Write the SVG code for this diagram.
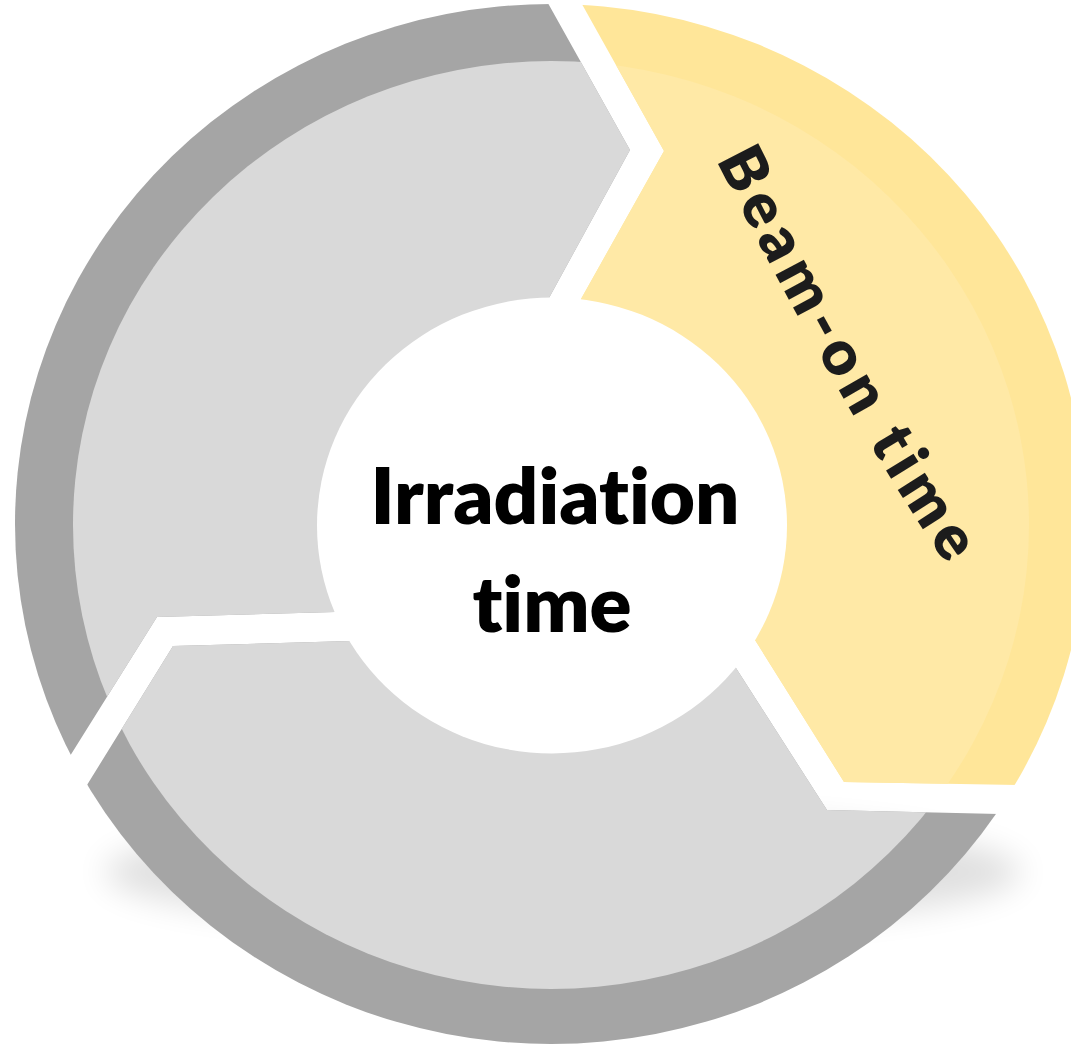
<svg xmlns="http://www.w3.org/2000/svg" width="1071" height="1046" viewBox="0 0 1071 1046">
  <style>
    .outer-gray { fill: #A5A5A5; }
    .inner-gray { fill: #D9D9D9; }
    .outer-yellow { fill: #FFE699; }
    .inner-yellow { fill: #FFE9A6; }
    .center { fill: #FFFFFF; }
    .center-label { font-family: Lato, "Open Sans", sans-serif; font-weight: 800; font-size: 78px; fill: #000000; text-anchor: middle; font-variant-ligatures: none; }
    .arc-label { font-family: Lato, "Open Sans", sans-serif; font-weight: 800; font-size: 62px; fill: #1C1C1C; letter-spacing: 6.5px; font-variant-ligatures: none; }
  </style>
  <defs>
    <clipPath id="clip-yellow">
      <polygon points="557,-40 583,6 664,151 581,299 552,525 755,640 844,782 1018,785 1150,787 1150,-40"/>
    </clipPath>
    <clipPath id="clip-bottom">
      <polygon points="552,525 736,668 827,810 999,814 1150,817 1150,1100 -50,1100 16,900 87,785 173,646 350,641"/>
    </clipPath>
    <clipPath id="clip-left">
      <polygon points="552,525 335,612 157,617 70,756 5,860 -50,860 -50,-40 524,-40 549,5 630,150 549,298"/>
    </clipPath>
    <filter id="soft-shadow" x="-20%" y="-100%" width="140%" height="300%">
      <feGaussianBlur stdDeviation="16"/>
    </filter>
    <path id="beam-path" d="M716,160 Q856,436 952,572" fill="none"/>
  </defs>

  <g id="shadow">
    <ellipse cx="563" cy="872" rx="458" ry="58" fill="#000" opacity="0.12" filter="url(#soft-shadow)"/>
  </g>

  <g id="segment-left" clip-path="url(#clip-left)">
    <ellipse class="outer-gray" cx="551" cy="524" rx="536" ry="520"/>
    <ellipse class="inner-gray" cx="551" cy="525" rx="478" ry="464"/>
  </g>

  <g id="segment-bottom" clip-path="url(#clip-bottom)">
    <ellipse class="outer-gray" cx="551" cy="524" rx="536" ry="520"/>
    <ellipse class="inner-gray" cx="551" cy="525" rx="478" ry="464"/>
  </g>

  <g id="segment-beam-on">
    <g clip-path="url(#clip-yellow)">
      <ellipse class="outer-yellow" cx="551" cy="524" rx="536" ry="520"/>
      <ellipse class="inner-yellow" cx="551" cy="525" rx="478" ry="464"/>
    </g>
    <text class="arc-label"><textPath href="#beam-path">Beam-on time</textPath></text>
  </g>

  <g id="center-node">
    <ellipse class="center" cx="552" cy="525.5" rx="235" ry="228"/>
    <text class="center-label" x="555" y="524">Irradiation</text>
    <text class="center-label" x="552" y="632">time</text>
  </g>

  <g id="connectors"/>
</svg>
